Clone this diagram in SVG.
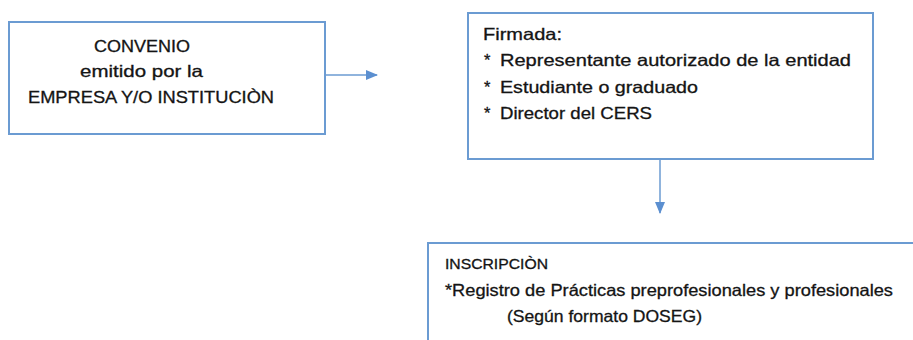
<svg xmlns="http://www.w3.org/2000/svg" width="913" height="340" viewBox="0 0 913 340">
<style>
.box{fill:#fff;stroke:#6b9bd2;stroke-width:2}
.t{font-family:"Liberation Sans",Arial,sans-serif;font-size:16.5px;fill:#141414;stroke:#141414;stroke-width:0.3}
.s{font-size:14px}
.c{fill:none;stroke:#6b9bd2;stroke-width:1.5}
</style>
<defs>
<marker id="ah" markerWidth="12" markerHeight="10" refX="11" refY="5" orient="auto" markerUnits="userSpaceOnUse">
<path d="M0,0 L12,5 L0,10 Z" fill="#5b8fd0"/>
</marker>
</defs>
<rect width="913" height="340" fill="#fff"/>
<g id="convenio">
<rect class="box" x="9" y="22" width="316" height="112"/>
<text class="t" x="94" y="52" textLength="96" lengthAdjust="spacingAndGlyphs">CONVENIO</text>
<text class="t" x="80" y="77" textLength="123" lengthAdjust="spacingAndGlyphs">emitido por la</text>
<text class="t" x="28" y="103" textLength="246" lengthAdjust="spacingAndGlyphs">EMPRESA Y/O INSTITUCIÒN</text>
</g>
<g id="firmada">
<rect class="box" x="468" y="13" width="405" height="146"/>
<text class="t" x="483" y="40" textLength="79" lengthAdjust="spacingAndGlyphs">Firmada:</text>
<text class="t" x="484" y="66">*</text>
<text class="t" x="500" y="66" textLength="351" lengthAdjust="spacingAndGlyphs">Representante autorizado de la entidad</text>
<text class="t" x="484" y="93">*</text>
<text class="t" x="500" y="93" textLength="198" lengthAdjust="spacingAndGlyphs">Estudiante o graduado</text>
<text class="t" x="484" y="119">*</text>
<text class="t" x="500" y="119" textLength="152" lengthAdjust="spacingAndGlyphs">Director del CERS</text>
</g>
<g id="inscripcion">
<rect class="box" x="428" y="243" width="495" height="110"/>
<text class="t s" x="445" y="269" textLength="103" lengthAdjust="spacingAndGlyphs">INSCRIPCIÒN</text>
<text class="t" x="445" y="296" textLength="448" lengthAdjust="spacingAndGlyphs">*Registro de Prácticas preprofesionales y profesionales</text>
<text class="t" x="507" y="322" textLength="195" lengthAdjust="spacingAndGlyphs">(Según formato DOSEG)</text>
</g>
<g id="connectors">
<line class="c" x1="325" y1="75" x2="377" y2="75" marker-end="url(#ah)"/>
<line class="c" x1="660" y1="159" x2="660" y2="213" marker-end="url(#ah)"/>
</g>
</svg>
